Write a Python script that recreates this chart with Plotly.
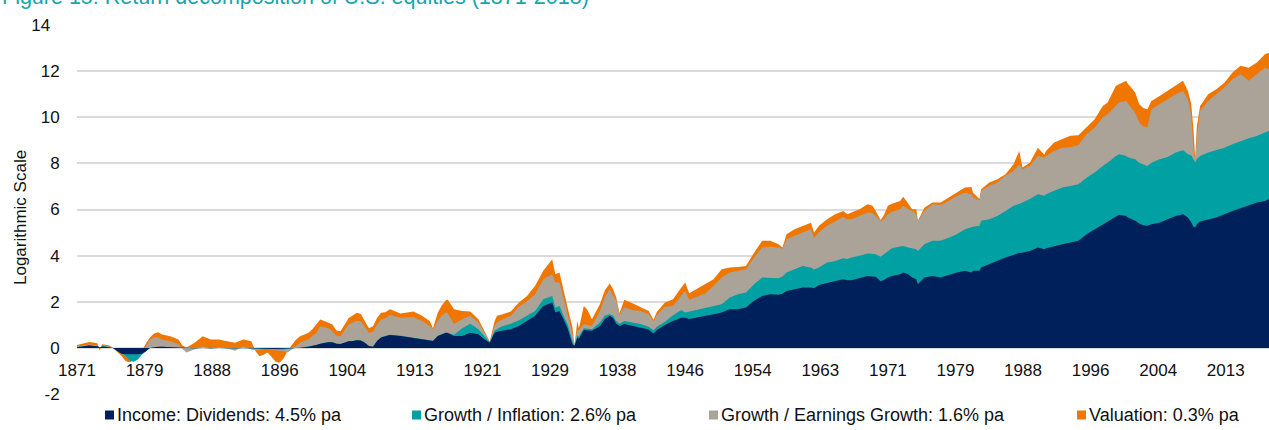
import plotly.graph_objects as go

# Cumulative log-return levels (each series includes all components below it)
years = [
    1871.5, 1872.0, 1872.5, 1873.0, 1873.5, 1874.0, 1874.3, 1874.6, 1875.0, 1875.5,
    1876.0, 1876.5, 1877.0, 1877.5, 1878.0, 1878.5, 1879.0, 1879.5, 1880.0, 1880.5,
    1881.0, 1881.5, 1882.0, 1883.0, 1884.0, 1884.5, 1885.0, 1886.0, 1887.0, 1888.0,
    1889.0, 1890.0, 1891.0, 1892.0, 1893.0, 1893.5, 1894.0, 1894.5, 1895.0, 1895.5,
    1896.0, 1896.5, 1897.0, 1897.5, 1898.0, 1898.5, 1899.0, 1900.0, 1900.5, 1901.0,
    1901.5, 1902.0, 1902.5, 1903.0, 1903.5, 1904.0, 1904.5, 1905.0, 1905.5, 1906.0,
    1906.5, 1907.0, 1907.5, 1908.0, 1908.5, 1909.0, 1909.5, 1910.1, 1911.4, 1912.2,
    1913.0, 1914.05, 1915.0, 1915.4, 1916.0, 1916.5, 1917.0, 1917.2, 1918.0, 1919.0,
    1920.0, 1921.0, 1921.7, 1922.4, 1923.0, 1923.3, 1924.0, 1925.0, 1926.0, 1927.0,
    1928.0, 1929.0, 1930.1, 1930.5, 1931.0, 1931.5, 1932.0, 1932.6, 1932.85, 1933.2,
    1933.4, 1934.0, 1934.4, 1935.0, 1936.0, 1936.6, 1937.2, 1937.6, 1938.0, 1938.4,
    1939.0, 1940.0, 1941.0, 1942.0, 1942.6, 1943.0, 1944.0, 1945.0, 1946.0, 1946.5,
    1947.0, 1948.0, 1949.0, 1950.0, 1951.0, 1952.0, 1953.0, 1954.0, 1955.0, 1956.0,
    1957.0, 1958.0, 1958.5, 1959.0, 1960.0, 1961.0, 1962.0, 1962.4, 1963.0, 1964.0,
    1965.0, 1966.0, 1966.5, 1967.0, 1968.0, 1969.0, 1969.6, 1970.0, 1970.6, 1971.0,
    1971.5, 1972.0, 1973.0, 1973.4, 1974.0, 1974.5, 1975.0, 1975.2, 1976.0, 1977.0,
    1978.0, 1979.0, 1980.0, 1981.0, 1981.8, 1982.0, 1982.8, 1983.0, 1984.0, 1985.0,
    1986.0, 1987.0, 1987.7, 1988.1, 1989.0, 1990.0, 1990.8, 1991.0, 1992.0, 1993.0,
    1994.0, 1995.0, 1996.0, 1997.0, 1998.0, 1998.6, 1999.0, 1999.6, 2000.0, 2000.9,
    2001.0, 2002.0, 2002.5, 2003.0, 2003.5, 2004.0, 2005.0, 2006.0, 2007.0, 2007.9,
    2008.5, 2008.9, 2009.2, 2009.4, 2009.6, 2010.0, 2011.0, 2012.0, 2013.0, 2014.0,
    2015.0, 2016.0, 2017.0, 2018.0, 2018.5,
]

income = [
    0.03, 0.06, 0.08, 0.10, 0.08, 0.07, 0.02, 0.06, 0.05, 0.03,
    -0.02, -0.15, -0.25, -0.28, -0.29, -0.29, -0.28, -0.25, -0.15, 0.00,
    0.03, 0.05, 0.05, 0.03, 0.00, -0.02, -0.02, -0.02, 0.00, -0.02,
    0.00, -0.02, -0.02, 0.00, -0.02, -0.03, -0.05, -0.05, -0.04, -0.05,
    -0.05, -0.05, -0.04, -0.03, -0.02, 0.00, 0.00, 0.05, 0.08, 0.12,
    0.18, 0.22, 0.24, 0.24, 0.18, 0.17, 0.22, 0.29, 0.30, 0.33,
    0.32, 0.22, 0.08, 0.05, 0.30, 0.45, 0.50, 0.56, 0.52, 0.48,
    0.45, 0.38, 0.33, 0.30, 0.52, 0.60, 0.66, 0.65, 0.52, 0.52,
    0.66, 0.59, 0.38, 0.22, 0.66, 0.70, 0.74, 0.81, 0.95, 1.17,
    1.39, 1.82, 1.97, 1.53, 1.60, 1.24, 0.85, 0.16, 0.08, 0.45,
    0.40, 0.77, 0.75, 0.74, 0.95, 1.25, 1.39, 1.30, 1.05, 0.95,
    1.03, 0.95, 0.88, 0.80, 0.62, 0.78, 0.99, 1.17, 1.31, 1.31,
    1.25, 1.31, 1.38, 1.46, 1.53, 1.68, 1.68, 1.75, 2.04, 2.25,
    2.33, 2.30, 2.35, 2.47, 2.54, 2.62, 2.62, 2.58, 2.73, 2.83,
    2.90, 2.98, 2.93, 2.93, 3.02, 3.12, 3.10, 3.08, 2.89, 2.94,
    3.05, 3.12, 3.19, 3.27, 3.19, 3.05, 2.98, 2.76, 3.05, 3.12,
    3.05, 3.16, 3.27, 3.34, 3.27, 3.34, 3.34, 3.48, 3.63, 3.77,
    3.92, 4.03, 4.13, 4.13, 4.20, 4.35, 4.28, 4.32, 4.42, 4.49,
    4.57, 4.64, 4.93, 5.14, 5.36, 5.48, 5.58, 5.72, 5.77, 5.72,
    5.68, 5.51, 5.39, 5.32, 5.29, 5.36, 5.43, 5.58, 5.72, 5.79,
    5.65, 5.45, 5.25, 5.22, 5.36, 5.48, 5.58, 5.65, 5.79, 5.94,
    6.05, 6.16, 6.30, 6.37, 6.45,
]

plus_inflation = [
    0.04, 0.07, 0.09, 0.11, 0.09, 0.08, 0.02, 0.07, 0.06, 0.04,
    -0.02, -0.15, -0.26, -0.35, -0.55, -0.60, -0.50, -0.30, -0.15, 0.00,
    0.03, 0.05, 0.05, 0.03, 0.00, -0.02, -0.02, -0.02, 0.00, -0.02,
    0.00, -0.02, -0.02, 0.00, -0.02, -0.04, -0.06, -0.06, -0.05, -0.06,
    -0.08, -0.08, -0.07, -0.04, -0.02, 0.00, 0.00, 0.05, 0.08, 0.12,
    0.18, 0.22, 0.24, 0.24, 0.18, 0.17, 0.22, 0.29, 0.30, 0.33,
    0.32, 0.22, 0.08, 0.05, 0.30, 0.46, 0.51, 0.57, 0.53, 0.49,
    0.46, 0.39, 0.34, 0.31, 0.53, 0.61, 0.67, 0.66, 0.57, 0.85,
    1.05, 0.81, 0.52, 0.24, 0.74, 0.82, 0.95, 1.05, 1.20, 1.39,
    1.60, 2.11, 2.25, 1.75, 1.82, 1.39, 1.03, 0.30, 0.09, 0.55,
    0.50, 0.85, 0.83, 0.81, 1.10, 1.40, 1.46, 1.40, 1.17, 1.05,
    1.17, 1.10, 1.03, 0.92, 0.76, 0.92, 1.13, 1.42, 1.64, 1.53,
    1.57, 1.64, 1.75, 1.82, 1.89, 2.18, 2.33, 2.40, 2.76, 3.05,
    3.05, 3.02, 3.10, 3.27, 3.41, 3.55, 3.48, 3.40, 3.48, 3.70,
    3.77, 3.89, 3.85, 3.92, 3.99, 4.09, 4.08, 4.06, 3.95, 4.06,
    4.20, 4.32, 4.40, 4.42, 4.35, 4.30, 4.28, 4.20, 4.49, 4.64,
    4.64, 4.78, 4.93, 5.14, 5.22, 5.25, 5.29, 5.51, 5.58, 5.72,
    5.94, 6.16, 6.25, 6.30, 6.45, 6.66, 6.60, 6.66, 6.81, 6.95,
    7.02, 7.10, 7.38, 7.60, 7.89, 8.03, 8.14, 8.32, 8.40, 8.32,
    8.28, 8.18, 8.03, 7.95, 7.89, 8.03, 8.18, 8.28, 8.47, 8.57,
    8.40, 8.35, 8.15, 8.05, 8.18, 8.32, 8.47, 8.57, 8.68, 8.83,
    8.97, 9.09, 9.19, 9.34, 9.41,
]

plus_earnings = [
    0.06, 0.09, 0.12, 0.15, 0.13, 0.10, 0.00, 0.09, 0.08, 0.06,
    -0.02, -0.15, -0.26, -0.35, -0.52, -0.55, -0.45, -0.20, 0.10, 0.35,
    0.45, 0.45, 0.36, 0.29, 0.17, -0.05, -0.20, -0.07, 0.07, -0.03,
    0.03, -0.03, -0.12, 0.07, -0.07, -0.10, -0.08, -0.07, -0.05, -0.08,
    -0.10, -0.15, -0.15, -0.20, -0.07, 0.10, 0.22, 0.36, 0.50, 0.65,
    0.94, 0.90, 0.85, 0.72, 0.52, 0.50, 0.75, 1.01, 1.10, 1.18,
    1.15, 0.87, 0.65, 0.70, 1.00, 1.23, 1.28, 1.43, 1.31, 1.32,
    1.34, 1.17, 0.95, 0.81, 1.17, 1.40, 1.53, 1.50, 1.03, 1.24,
    1.39, 1.10, 0.66, 0.26, 0.95, 1.10, 1.24, 1.39, 1.78, 2.01,
    2.33, 2.98, 3.19, 2.83, 2.83, 2.18, 1.46, 0.59, 0.10, 0.80,
    0.75, 1.03, 1.00, 0.95, 1.60, 2.20, 2.54, 2.30, 2.04, 1.45,
    1.75, 1.64, 1.60, 1.46, 1.15, 1.42, 1.78, 1.82, 2.25, 2.47,
    2.09, 2.21, 2.36, 2.69, 3.05, 3.27, 3.34, 3.41, 3.92, 4.35,
    4.38, 4.35, 4.30, 4.71, 4.86, 5.00, 5.14, 4.78, 5.00, 5.29,
    5.50, 5.68, 5.58, 5.58, 5.72, 5.87, 5.85, 5.72, 5.50, 5.58,
    5.79, 5.90, 6.01, 6.16, 6.01, 5.94, 5.79, 5.51, 5.94, 6.23,
    6.20, 6.37, 6.59, 6.73, 6.66, 6.52, 6.40, 6.81, 7.02, 7.17,
    7.46, 7.67, 7.96, 7.75, 7.89, 8.32, 8.25, 8.32, 8.54, 8.68,
    8.70, 8.80, 9.26, 9.55, 9.99, 10.13, 10.27, 10.49, 10.64, 10.71,
    10.64, 10.20, 9.77, 9.60, 9.58, 10.35, 10.56, 10.78, 11.00, 11.14,
    10.78, 10.10, 8.60, 8.07, 9.12, 10.27, 10.71, 11.00, 11.29, 11.65,
    11.86, 11.58, 11.86, 12.15, 12.08,
]

plus_valuation = [
    0.12, 0.17, 0.22, 0.26, 0.23, 0.20, -0.12, 0.16, 0.14, 0.10,
    -0.03, -0.20, -0.35, -0.58, -0.62, -0.55, -0.45, -0.15, 0.20, 0.45,
    0.62, 0.68, 0.58, 0.50, 0.36, 0.10, 0.02, 0.22, 0.50, 0.36,
    0.36, 0.29, 0.22, 0.36, 0.29, -0.14, -0.36, -0.30, -0.20, -0.40,
    -0.60, -0.65, -0.45, -0.10, 0.14, 0.35, 0.50, 0.65, 0.80, 1.01,
    1.23, 1.16, 1.10, 1.01, 0.75, 0.72, 1.00, 1.30, 1.40, 1.52,
    1.47, 1.16, 0.85, 0.94, 1.30, 1.52, 1.55, 1.68, 1.49, 1.53,
    1.58, 1.39, 1.17, 0.85, 1.53, 1.85, 2.07, 2.10, 1.68, 1.60,
    1.58, 1.24, 0.74, 0.28, 1.17, 1.39, 1.46, 1.58, 1.97, 2.25,
    2.69, 3.34, 3.84, 3.19, 3.27, 2.47, 1.75, 0.88, 0.12, 1.17,
    0.85, 1.82, 1.68, 1.24, 1.90, 2.50, 2.79, 2.55, 2.18, 1.50,
    2.09, 1.93, 1.78, 1.60, 1.22, 1.56, 1.97, 2.11, 2.61, 2.83,
    2.37, 2.58, 2.77, 2.98, 3.41, 3.48, 3.51, 3.55, 4.13, 4.64,
    4.64, 4.49, 4.35, 4.93, 5.14, 5.29, 5.43, 5.00, 5.29, 5.58,
    5.79, 5.94, 5.79, 5.87, 6.01, 6.23, 6.16, 5.94, 5.55, 5.75,
    6.16, 6.25, 6.37, 6.55, 6.23, 6.01, 6.01, 5.51, 6.08, 6.30,
    6.30, 6.52, 6.73, 6.95, 6.98, 6.73, 6.45, 6.88, 7.17, 7.31,
    7.53, 7.96, 8.54, 7.82, 8.03, 8.68, 8.37, 8.54, 8.90, 9.05,
    9.20, 9.22, 9.55, 9.91, 10.49, 10.64, 10.92, 11.36, 11.43, 11.58,
    11.50, 11.07, 10.56, 10.40, 10.35, 10.71, 10.92, 11.14, 11.36, 11.58,
    11.14, 10.60, 9.40, 8.20, 9.60, 10.49, 11.00, 11.21, 11.50, 11.94,
    12.23, 12.15, 12.37, 12.73, 12.80,
]

series_names = [
    "Income: Dividends: 4.5% pa",
    "Growth / Inflation: 2.6% pa",
    "Growth / Earnings Growth: 1.6% pa",
    "Valuation: 0.3% pa",
]
tick_labels = ["1871", "1879", "1888", "1896", "1904", "1913", "1921", "1929", "1938",
               "1946", "1954", "1963", "1971", "1979", "1988", "1996", "2004", "2013"]
y_ticks = [-2, 0, 2, 4, 6, 8, 10, 12, 14]

NAVY, TEAL, GREY, ORANGE = "#00205C", "#00A0A3", "#ABA398", "#EF7700"
colors = [NAVY, TEAL, GREY, ORANGE]
FONT = "Liberation Sans, Arial, sans-serif"

W, H = 1269, 430
L, R, T, B = 77, 0, 25, 36
PW, PH = W - L - R, H - T - B

fig = go.Figure()
# back to front: total level first, dividends level last
levels = [income, plus_inflation, plus_earnings, plus_valuation]
for lvl, col, name in reversed(list(zip(levels, colors, series_names))):
    fig.add_trace(go.Scatter(
        x=years, y=lvl, name=name, mode="lines", fill="tozeroy",
        line=dict(width=0, color=col), fillcolor=col,
        showlegend=False, hoverinfo="skip",
    ))

# category ticks every 100 months from the first observation
start = years[0]
tick_vals = [start + 100 / 12 * k for k in range(len(tick_labels))]

fig.update_layout(
    width=W, height=H,
    margin=dict(l=L, r=R, t=T, b=B, autoexpand=False),
    paper_bgcolor="white", plot_bgcolor="white",
    font=dict(family=FONT, size=17, color="#111111"),
    xaxis=dict(
        range=[years[0], years[-1]], tickmode="array", tickvals=tick_vals, ticktext=tick_labels,
        showgrid=False, zeroline=False, showline=False,
        anchor="free", position=2 / 16,
        ticks="outside", ticklen=7, tickcolor="rgba(0,0,0,0)",
        tickfont=dict(size=17),
    ),
    yaxis=dict(
        range=[-2, 14], tickmode="array", tickvals=y_ticks,
        ticktext=[("14\u00a0\u00a0" if v == 14 else str(v)) for v in y_ticks],
        showgrid=True, gridcolor="#DADADA", gridwidth=1.5, zeroline=False, showline=False,
        ticks="outside", ticklen=13, tickcolor="rgba(0,0,0,0)",
        tickfont=dict(size=17),
    ),
)

def px_x(p):
    return (p - L) / PW

def px_y(p):
    return (H - B - p) / PH

annotations = [
    dict(text="Figure 15: Return decomposition of U.S. equities (1871-2018)",
         x=px_x(0), y=px_y(11), xref="paper", yref="paper", xanchor="left", yanchor="bottom",
         showarrow=False, font=dict(size=21.5, color="#16A4AE", family=FONT)),
    dict(text="Logarithmic Scale", textangle=-90,
         x=px_x(20), y=px_y(218), xref="paper", yref="paper", xanchor="center", yanchor="middle",
         showarrow=False, font=dict(size=17, color="#111111", family=FONT)),
]

# legend: colour square followed by label
legend_x = [105, 412, 709, 1077]
shapes = []
for lx, col, name in zip(legend_x, colors, series_names):
    shapes.append(dict(type="rect", xref="paper", yref="paper",
                       x0=px_x(lx), x1=px_x(lx + 9), y0=px_y(419.5), y1=px_y(410.5),
                       fillcolor=col, line=dict(width=0)))
    annotations.append(dict(text=name, x=px_x(lx + 10), y=px_y(415), xref="paper", yref="paper",
                            xanchor="left", yanchor="middle", showarrow=False,
                            font=dict(size=18, color="#111111", family=FONT)))

fig.update_layout(annotations=annotations, shapes=shapes)

fig.write_html("out.html")
